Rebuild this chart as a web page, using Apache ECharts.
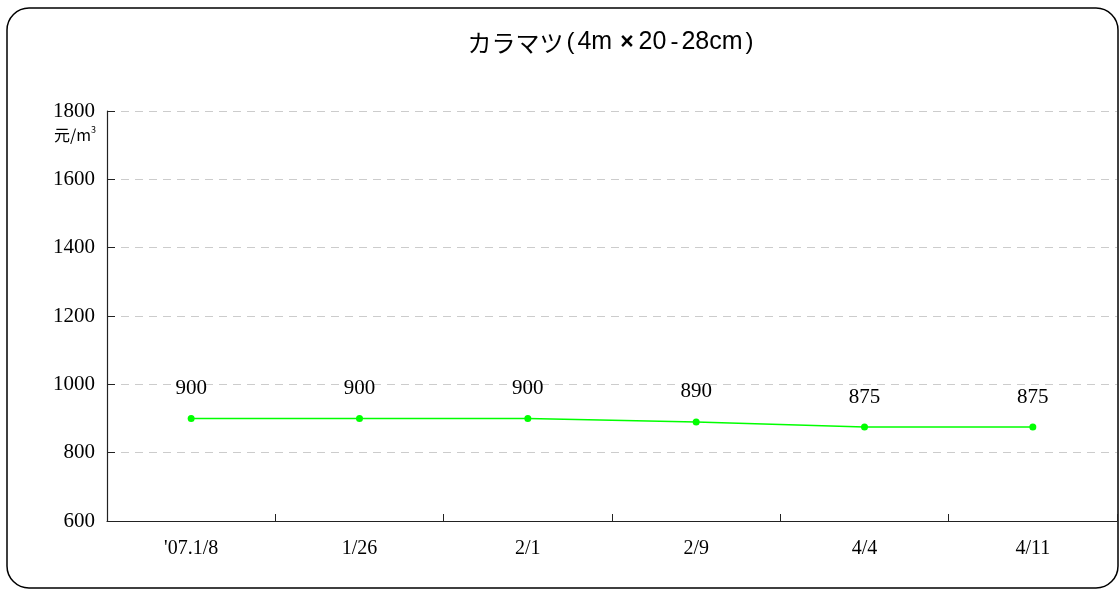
<!DOCTYPE html>
<html>
<head>
<meta charset="utf-8">
<script src="https://cdn.jsdelivr.net/npm/echarts@6/dist/echarts.min.js"></script>
<style>
html,body{margin:0;padding:0;background:#fff;}
#c{width:1120px;height:592px;}
</style>
</head>
<body>
<div id="c"></div>
<script>
var categories = ["'07.1/8", "1/26", "2/1", "2/9", "4/4", "4/11"];
var prices = [900, 900, 900, 890, 875, 875];
var titleText = "{k|カラマツ}{p|(}{a|4m}{x|×}{a|20}{h|-}{a|28cm}{p|)}";

var chart = echarts.init(document.getElementById('c'));
var sans = 'Noto Sans CJK JP';
var lat = 'Liberation Sans';
chart.setOption({
  animation: false,
  backgroundColor: '#fff',
  title: {
    text: titleText,
    left: 607, top: 25, textAlign: 'center',
    textStyle: {
      fontFamily: sans, fontSize: 24, fontWeight: 'normal', color: '#000',
      rich: {
        k: {fontFamily: sans, fontSize: 24, color: '#000'},
        a: {fontFamily: lat, fontSize: 25, color: '#000'},
        p: {fontFamily: lat, fontSize: 24, color: '#000', padding: [0, 3, 0, 3]},
        x: {fontFamily: lat, fontSize: 23, color: '#000', fontWeight: 'bold', padding: [0, 5, 0, 8]},
        h: {fontFamily: lat, fontSize: 24, color: '#000', padding: [0, 3, 0, 4]}
      }
    }
  },
  graphic: [
    {type: 'rect', shape: {x: 7, y: 8, width: 1111, height: 580, r: 22},
     style: {fill: 'none', stroke: '#000', lineWidth: 1.5}, z: -1},
    {type: 'text', left: 54, top: 125,
     style: {text: '{a|元/m}{s|3}', rich: {
       a: {fontFamily: sans, fontSize: 16, color: '#000'},
       s: {fontFamily: sans, fontSize: 9, color: '#000', verticalAlign: 'top', padding: [0,0,10,0]}
     }}}
  ],
  grid: {left: 107, right: 3, top: 111, bottom: 71, containLabel: false},
  xAxis: {
    type: 'category', data: categories, boundaryGap: true,
    axisLine: {show: true, lineStyle: {color: '#222', width: 1.2}},
    axisTick: {show: true, inside: true, length: 7, interval: 0, lineStyle: {color: '#222', width: 1}},
    axisLabel: {margin: 18, fontFamily: 'Liberation Serif', fontSize: 20, color: '#000'}
  },
  yAxis: {
    type: 'value', min: 600, max: 1800, interval: 200,
    axisLine: {show: true, lineStyle: {color: '#222', width: 1.2}},
    axisTick: {show: true, inside: true, length: 8, lineStyle: {color: '#222', width: 1}},
    axisLabel: {margin: 12, fontFamily: 'Liberation Serif', fontSize: 21, color: '#000',
      formatter: function (v) { return String(v); }},
    splitLine: {show: true, lineStyle: {color: '#ccc', type: [8, 6], width: 1}}
  },
  series: [{
    type: 'line', data: prices,
    symbol: 'circle', symbolSize: 7,
    lineStyle: {color: '#00ff00', width: 1.5},
    itemStyle: {color: '#00ff00'},
    label: {show: true, position: 'top', distance: 16,
      fontFamily: 'Liberation Serif', fontSize: 21, color: '#000'}
  }]
});
</script>
</body>
</html>
